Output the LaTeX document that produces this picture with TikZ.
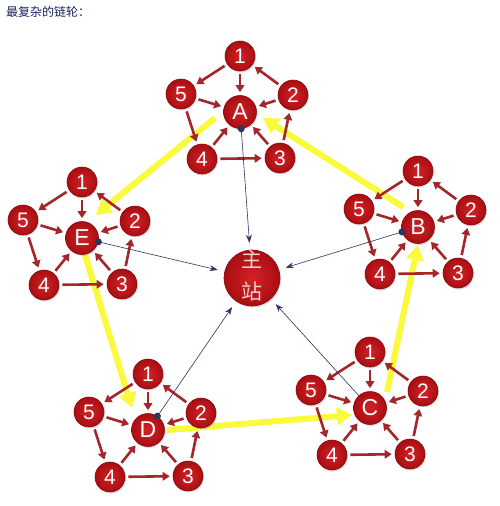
\documentclass[tikz,border=0pt]{standalone}
\usepackage{fontspec}
\setmainfont{Liberation Sans}
\newfontfamily\cjk{Noto Sans CJK SC}
\usetikzlibrary{arrows.meta,shadows}
\pgfdeclarelayer{background}
\pgfdeclarelayer{canvas}
\pgfsetlayers{canvas,background,main}
\definecolor{ballin}{HTML}{D42226}
\definecolor{ballout}{HTML}{A80E12}
\definecolor{balledge}{HTML}{8A0A0E}
\definecolor{arrred}{HTML}{A3262B}
\definecolor{navyline}{HTML}{2A3560}
\definecolor{yel}{HTML}{FAFA3C}
\definecolor{titleblue}{HTML}{1E2260}
\definecolor{pinktext}{HTML}{F8D0D0}
\tikzset{
  sat/.style={circle, minimum size=30pt, inner sep=0pt, draw=balledge, line width=0.6pt,
    shading=radial, inner color=ballin, outer color=ballout, text=white,
    font=\fontsize{21}{21}\selectfont,
    drop shadow={shadow xshift=1pt, shadow yshift=-1.5pt, opacity=0.25}},
  hub/.style={sat, minimum size=33pt, font=\fontsize{23}{23}\selectfont},
  mainst/.style={circle, minimum size=56pt, inner sep=0pt, draw=balledge, line width=0.6pt,
    shading=radial, inner color=ballin, outer color=ballout,
    drop shadow={shadow xshift=1pt, shadow yshift=-1.5pt, opacity=0.25}},
  redarr/.style={draw=arrred, line width=2.6pt, -{Triangle[length=7pt,width=8.5pt]},
    shorten >=3pt, shorten <=3pt},
  navarr/.style={draw=navyline, line width=0.6pt, -{Stealth[length=8pt,width=6pt]}, shorten >=7pt},
  yarr/.style={draw=yel, line width=6pt, -{Triangle[length=15pt,width=17pt]}},
  navdot/.style={circle, fill=navyline, inner sep=0pt, minimum size=7pt},
}
\newcommand{\pcluster}[3]{%
  \begin{scope}[shift={(#3)}]
    \node[hub] (#1) at (0,0) {#2};
    \node[sat] (#1-1) at (0,-56) {1};
    \node[sat] (#1-2) at (53,-17) {2};
    \node[sat] (#1-3) at (40,46) {3};
    \node[sat] (#1-4) at (-38,47) {4};
    \node[sat] (#1-5) at (-59,-18) {5};
  \end{scope}
  \draw[redarr] (#1-1) -- (#1-5);
  \draw[redarr] (#1-1) -- (#1);
  \draw[redarr] (#1-2) -- (#1-1);
  \draw[redarr] (#1-2) -- (#1);
  \draw[redarr] (#1-5) -- (#1);
  \draw[redarr] (#1-5) -- (#1-4);
  \draw[redarr] (#1-4) -- (#1);
  \draw[redarr] (#1-4) -- (#1-3);
  \draw[redarr] (#1-3) -- (#1);
  \draw[redarr] (#1-3) -- (#1-2);
}
\begin{document}
\begin{tikzpicture}[x=1pt,y=-1pt]
  \begin{pgfonlayer}{canvas}
    \fill[white] (0,0) rectangle (500,506);
  \end{pgfonlayer}
  \path[use as bounding box] (0,0) rectangle (500,506);
  \node[anchor=west, inner sep=0pt, text=titleblue, font=\cjk\fontsize{12}{12}\selectfont] (title) at (6,12) {最复杂的链轮：};
  \node[mainst] (main) at (252,278) {};
  \node[text=pinktext, font=\cjk\fontsize{21}{21}\selectfont, inner sep=0pt] (zhu) at (252,259) {主};
  \node[text=pinktext, font=\cjk\fontsize{21}{21}\selectfont, inner sep=0pt] (zhan) at (252,291) {站};
  \pcluster{A}{A}{240,112}
  \pcluster{B}{B}{418,227}
  \pcluster{C}{C}{370,408}
  \pcluster{D}{D}{148,430}
  \pcluster{E}{E}{82,238}
  \begin{pgfonlayer}{background}
    \draw[yarr] ([shift={(-25,6)}]A.center) -- ([shift={(14,-23)}]E.center);
    \draw[yarr] ([shift={(3,17)}]E.center) -- ([shift={(-16,-22)}]D.center);
    \draw[yarr] ([shift={(19,0)}]D.center) -- ([shift={(-18,7)}]C.center);
    \draw[yarr] ([shift={(17,-16)}]C.center) -- ([shift={(0,18)}]B.center);
    \draw[yarr] ([shift={(-15,-20)}]B.center) -- ([shift={(23,6)}]A.center);
  \end{pgfonlayer}
  \draw[navarr] (A) -- node[pos=0, navdot] {} (main);
  \draw[navarr] (B) -- node[pos=0, navdot] {} (main);
  \draw[navarr] (C) -- (main);
  \draw[navarr] (D) -- node[pos=0, navdot] {} (main);
  \draw[navarr] (E) -- node[pos=0, navdot] {} (main);
\end{tikzpicture}
\end{document}
